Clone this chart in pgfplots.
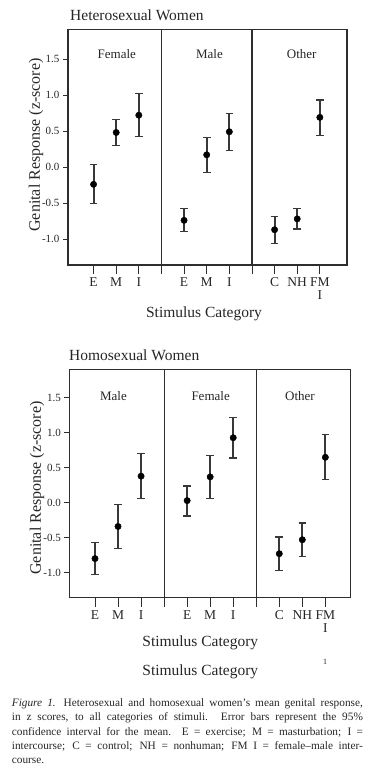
\documentclass[border=0pt]{standalone}
\usepackage{pgfplots}
\usepackage{pgfplotstable}
\pgfplotsset{compat=1.18}
\usepackage{fontspec}
\setmainfont{Liberation Serif}
\definecolor{axc}{gray}{0.18}
\definecolor{txc}{gray}{0.15}
\definecolor{erc}{gray}{0.22}

\pgfplotstableread{
x y ep em
1 -0.24 0.27 0.27
2 0.48 0.18 0.18
3 0.72 0.30 0.30
5 -0.74 0.16 0.16
6 0.17 0.24 0.25
7 0.49 0.25 0.26
9 -0.87 0.18 0.19
10 -0.72 0.15 0.14
11 0.69 0.24 0.25
}\hetero

\pgfplotstableread{
x y ep em
1 -0.80 0.23 0.23
2 -0.34 0.31 0.31
3 0.38 0.32 0.32
5 0.03 0.21 0.22
6 0.37 0.31 0.31
7 0.93 0.29 0.29
9 -0.73 0.24 0.24
10 -0.53 0.24 0.24
11 0.65 0.33 0.32
}\homo

\pgfplotsset{
  base/.style={scale only axis, ymin=-1.36, ymax=1.91, clip=false,
    axis line style={line width=1.2pt, draw=axc}},
  main/.style={base,
    xtick={1,2,3,5,6,7,9,10,11},
    xticklabels={E,M,I,E,M,I,C,NH,{FM\\I}},
    ytick=\empty, xtick pos=bottom, tick align=outside,
    major tick length=9pt,
    tick style={line width=0.9pt, draw=axc},
    xticklabel style={align=center, text=txc, font=\fontsize{13.5}{13}\selectfont},
    extra x ticks={4,8}, extra x tick labels={},
    extra x tick style={grid=major, major grid style={line width=1.1pt, draw=axc}}},
  yax/.style={base, hide x axis,
    ytick={-1,-0.5,0,0.5,1,1.5}, ytick pos=left, tick align=outside,
    major tick length=5pt, tick style={line width=0.9pt, draw=axc},
    yticklabel style={text=txc, font=\fontsize{11}{11}\selectfont,
      /pgf/number format/.cd, fixed, fixed zerofill, precision=1, assume math mode=true}},
  pts/.style={only marks, mark=*, black, mark size=3.2pt,
    mark options={fill=black, draw=black},
    error bars/.cd, y dir=both, y explicit,
    error bar style={line width=1.9pt, draw=erc},
    error mark options={line width=1.2pt, mark size=3.8pt, draw=erc, rotate=90}},
}
\tikzset{plab/.style={text=txc, font=\fontsize{13}{13}\selectfont}}

\begin{document}
\begin{tikzpicture}
\useasboundingbox (0,0) rectangle (391pt,-777pt);

% ---------- Heterosexual women ----------
\begin{axis}[main, at={(68pt,-265pt)}, anchor=south west,
  width=279pt, height=235.5pt, xmin=-0.13, xmax=12.2]
\addplot+[pts] table[x=x, y=y, y error plus=ep, y error minus=em] {\hetero};
\node[plab] at (axis cs:2.03,1.57) {Female};
\node[plab] at (axis cs:6.12,1.57) {Male};
\node[plab] at (axis cs:10.2,1.57) {Other};
\end{axis}
\begin{axis}[yax, at={(68pt,-265pt)}, anchor=south west,
  width=279pt, height=235.5pt, xmin=-0.13, xmax=12.2]
\end{axis}

% ---------- Homosexual women ----------
\begin{axis}[main, at={(69.3pt,-597.7pt)}, anchor=south west,
  width=281.4pt, height=228.4pt, xmin=-0.116, xmax=12.1]
\addplot+[pts] table[x=x, y=y, y error plus=ep, y error minus=em] {\homo};
\node[plab] at (axis cs:1.8,1.53) {Male};
\node[plab] at (axis cs:6.02,1.53) {Female};
\node[plab] at (axis cs:9.9,1.53) {Other};
\end{axis}
\begin{axis}[yax, at={(69.3pt,-597.7pt)}, anchor=south west,
  width=281.4pt, height=228.4pt, xmin=-0.116, xmax=12.1]
\end{axis}

% ---------- titles and labels ----------
\node[anchor=base west, inner sep=0, text=txc, font=\fontsize{15.5}{15.5}\selectfont] at (70pt,-20.7pt) {Heterosexual Women};
\node[anchor=base west, inner sep=0, text=txc, font=\fontsize{15.5}{15.5}\selectfont] at (69pt,-360pt) {Homosexual Women};

\node[anchor=base, inner sep=0, text=txc, font=\fontsize{15.5}{15.5}\selectfont] at (204pt,-317.7pt) {Stimulus Category};
\node[anchor=base, inner sep=0, text=txc, font=\fontsize{15.5}{15.5}\selectfont] at (200.3pt,-646pt) {Stimulus Category};
\node[anchor=base, inner sep=0, text=txc, font=\fontsize{15.5}{15.5}\selectfont] at (200.3pt,-675pt) {Stimulus Category};
\node[inner sep=0, text=txc, font=\fontsize{8}{8}\selectfont] at (325pt,-661.7pt) {1};

\node[rotate=90, inner sep=0, text=txc, font=\fontsize{16}{16}\selectfont] at (36pt,-145pt) {Genital Response (z-score)};
\node[rotate=90, inner sep=0, text=txc, font=\fontsize{16}{16}\selectfont] at (37pt,-488pt) {Genital Response (z-score)};

% ---------- caption ----------
\node[anchor=base west, inner sep=0, text=txc] at (11.7pt,-706.7pt) {\parbox[t]{351pt}{\fontsize{11.3}{14.2}\selectfont\parindent=0pt
\textit{Figure 1.}\hspace{0.7em}Heterosexual and homosexual women’s mean genital response,\linebreak
in z scores, to all categories of stimuli. Error bars represent the 95\%\linebreak
confidence interval for the mean. E = exercise; M = masturbation; I =\linebreak
intercourse; C = control; NH = nonhuman; FM I = female–male inter-\linebreak
course.}};
\end{tikzpicture}
\end{document}
